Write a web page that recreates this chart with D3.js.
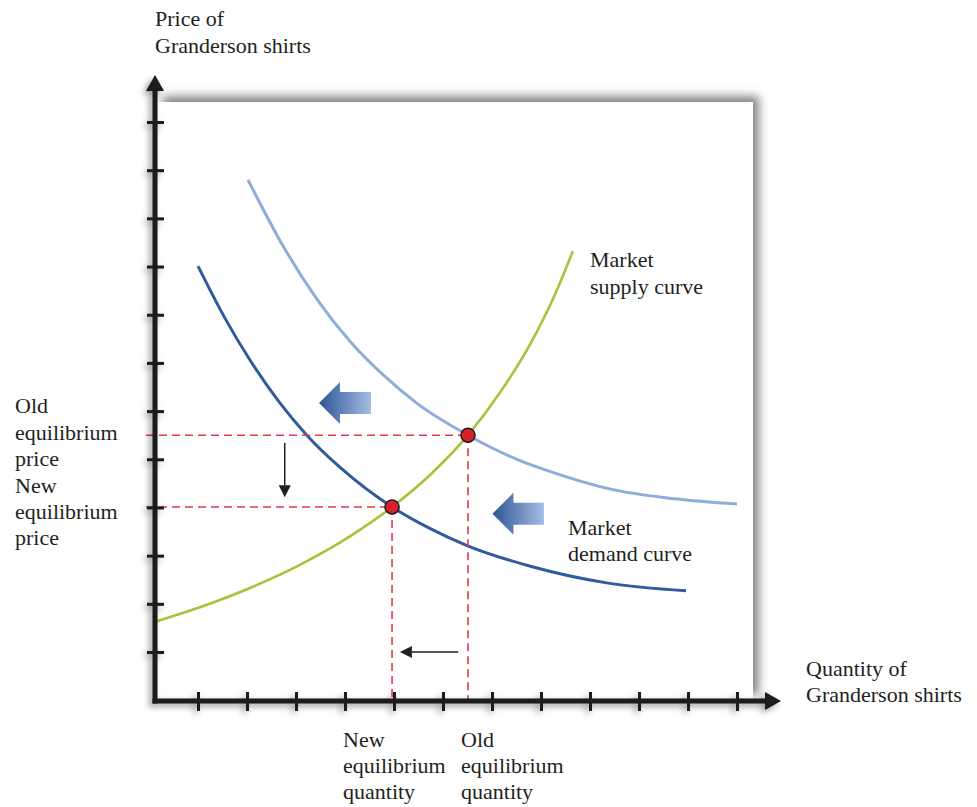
<!DOCTYPE html>
<html>
<head>
<meta charset="utf-8">
<script src="https://cdn.jsdelivr.net/npm/d3@7/dist/d3.min.js"></script>
<style>
  html, body { margin: 0; padding: 0; background: #ffffff; }
  svg { display: block; }
  text { font-family: "Liberation Serif", "Times New Roman", serif; font-size: 22px; fill: #231f20; }
</style>
</head>
<body>
<svg id="chart" width="977" height="807"></svg>
<script>
// ---------- DATA (axis units: quantity ticks 1..12, price ticks 1..12) ----------
const xTickValues = [1,2,3,4,5,6,7,8,9,10,11,12];
const yTickValues = [1,2,3,4,5,6,7,8,9,10,11,12];

const supplyQ = [0.16, 1.04, 2.06, 3.08, 4.10, 4.96, 5.74, 6.51, 7.16, 7.78, 8.29, 8.65];
const supplyP = [1.64, 1.93, 2.33, 2.81, 3.40, 4.01, 4.68, 5.50, 6.38, 7.39, 8.43, 9.32];

const oldDemandQ = [2.02, 2.74, 3.43, 4.10, 4.78, 5.47, 6.51, 7.51, 8.12, 9.47, 10.73, 12.00];
const oldDemandP = [10.80, 9.42, 8.32, 7.45, 6.75, 6.16, 5.50, 5.00, 4.77, 4.37, 4.18, 4.07];

const newDemandQ = [1.00, 1.55, 2.06, 2.67, 3.22, 3.90, 4.96, 5.74, 6.49, 7.82, 9.37, 10.96];
const newDemandP = [9.01, 7.93, 7.06, 6.17, 5.50, 4.83, 4.01, 3.56, 3.21, 2.77, 2.43, 2.27];

const equilibriumNames = ["old", "new"];
const equilibriumQ = [6.51, 4.96];
const equilibriumP = [5.50, 4.01];

// shift arrows (tip position, tail position) in axis units
const shiftArrowTipQ = [3.47, 7.01];
const shiftArrowTailQ = [4.53, 8.06];
const shiftArrowP = [6.17, 3.87];

// small black arrows: price drop and quantity drop
const priceArrowQ = [2.77, 2.77];
const priceArrowP = [5.34, 4.21];
const quantityArrowQ = [6.31, 5.12];
const quantityArrowP = [1.0, 1.0];

const yAxisTitle = ["Price of", "Granderson shirts"];
const xAxisTitle = ["Quantity of", "Granderson shirts"];
const supplyLabel = ["Market", "supply curve"];
const demandLabel = ["Market", "demand curve"];
const oldPriceLabel = ["Old", "equilibrium", "price"];
const newPriceLabel = ["New", "equilibrium", "price"];
const newQtyLabel = ["New", "equilibrium", "quantity"];
const oldQtyLabel = ["Old", "equilibrium", "quantity"];

// ---------- LAYOUT ----------
const svg = d3.select("#chart");
const x = d3.scaleLinear().domain([0, 12]).range([149, 737]);
const y = d3.scaleLinear().domain([0, 12]).range([700.2, 122]);
const axisX0 = 155, axisY0 = 701;
const panel = {left: 157, top: 102, right: 753, bottom: 701};

const defs = svg.append("defs");
const fPanel = defs.append("filter").attr("id", "panelShadow")
  .attr("x", "-10%").attr("y", "-10%").attr("width", "120%").attr("height", "120%");
fPanel.append("feDropShadow").attr("dx", 6).attr("dy", -6).attr("stdDeviation", 5)
  .attr("flood-color", "#555").attr("flood-opacity", 0.7);
const fAxis = defs.append("filter").attr("id", "axisShadow")
  .attr("x", "-20%").attr("y", "-20%").attr("width", "140%").attr("height", "140%");
fAxis.append("feDropShadow").attr("dx", -3).attr("dy", 3).attr("stdDeviation", 3)
  .attr("flood-color", "#000").attr("flood-opacity", 0.4);

const grad = defs.append("linearGradient").attr("id", "arrowGrad")
  .attr("x1", "0%").attr("x2", "100%").attr("y1", "0%").attr("y2", "0%");
grad.append("stop").attr("offset", "0%").attr("stop-color", "#2c5596");
grad.append("stop").attr("offset", "100%").attr("stop-color", "#a6bde3");

// panel
svg.append("rect")
  .attr("x", panel.left).attr("y", panel.top)
  .attr("width", panel.right - panel.left).attr("height", panel.bottom - panel.top)
  .attr("fill", "#ffffff").attr("filter", "url(#panelShadow)");

// curves
const line = d3.line().x(d => x(d[0])).y(d => y(d[1])).curve(d3.curveMonotoneX);
const zip = (a, b) => a.map((v, i) => [v, b[i]]);

svg.append("path").datum(zip(oldDemandQ, oldDemandP)).attr("d", line)
  .attr("fill", "none").attr("stroke", "#8eadda").attr("stroke-width", 3);
svg.append("path").datum(zip(newDemandQ, newDemandP)).attr("d", line)
  .attr("fill", "none").attr("stroke", "#2f5c9e").attr("stroke-width", 3);
svg.append("path").datum(zip(supplyQ, supplyP)).attr("d", line)
  .attr("fill", "none").attr("stroke", "#a9c23c").attr("stroke-width", 2.6);

// dashed guides
const guides = svg.append("g").attr("stroke", "#e23a48").attr("stroke-width", 1.6)
  .attr("stroke-dasharray", "8,5").attr("fill", "none");
equilibriumQ.forEach((q, i) => {
  guides.append("line").attr("x1", axisX0 - 9).attr("x2", x(q))
    .attr("y1", y(equilibriumP[i])).attr("y2", y(equilibriumP[i]));
  guides.append("line").attr("x1", x(q)).attr("x2", x(q))
    .attr("y1", y(equilibriumP[i])).attr("y2", axisY0);
});

// big shift arrows
shiftArrowTipQ.forEach((tq, i) => {
  const tx = x(tq), ex = x(shiftArrowTailQ[i]), cy = y(shiftArrowP[i]);
  const headLen = 21, headH = 21, shaftH = 11;
  const pts = [[tx, cy], [tx + headLen, cy - headH], [tx + headLen, cy - shaftH], [ex, cy - shaftH],
               [ex, cy + shaftH], [tx + headLen, cy + shaftH], [tx + headLen, cy + headH]];
  svg.append("polygon").attr("points", pts.map(p => p.join(",")).join(" "))
    .attr("fill", "url(#arrowGrad)");
});

// small black arrows
function smallArrow(x1, y1, x2, y2) {
  const ang = Math.atan2(y2 - y1, x2 - x1);
  const hl = 12, hw = 6;
  const bx = x2 - hl * Math.cos(ang), by = y2 - hl * Math.sin(ang);
  svg.append("line").attr("x1", x1).attr("y1", y1).attr("x2", bx).attr("y2", by)
    .attr("stroke", "#231f20").attr("stroke-width", 1.5);
  const px = -Math.sin(ang) * hw, py = Math.cos(ang) * hw;
  svg.append("polygon")
    .attr("points", [[x2, y2], [bx + px, by + py], [bx - px, by - py]].map(p => p.join(",")).join(" "))
    .attr("fill", "#231f20");
}
smallArrow(x(priceArrowQ[0]), y(priceArrowP[0]), x(priceArrowQ[1]), y(priceArrowP[1]));
smallArrow(x(quantityArrowQ[0]), y(quantityArrowP[0]), x(quantityArrowQ[1]), y(quantityArrowP[1]));

// axes
const axes = svg.append("g").attr("filter", "url(#axisShadow)");
axes.append("line").attr("x1", axisX0).attr("x2", axisX0).attr("y1", axisY0 + 2.5).attr("y2", 88)
  .attr("stroke", "#1a1a1a").attr("stroke-width", 5);
axes.append("polygon")
  .attr("points", [[axisX0, 75], [axisX0 - 9, 91], [axisX0 + 9, 91]].map(p => p.join(",")).join(" "))
  .attr("fill", "#1a1a1a");
axes.append("line").attr("x1", axisX0 - 2.5).attr("x2", 768).attr("y1", axisY0).attr("y2", axisY0)
  .attr("stroke", "#1a1a1a").attr("stroke-width", 5);
axes.append("polygon")
  .attr("points", [[781, axisY0], [765, axisY0 - 9], [765, axisY0 + 9]].map(p => p.join(",")).join(" "))
  .attr("fill", "#1a1a1a");

const xAxisG = axes.append("g").attr("transform", `translate(0,${axisY0 - 9})`)
  .call(d3.axisBottom(x).tickValues(xTickValues).tickSize(19).tickFormat(""));
const yAxisG = axes.append("g").attr("transform", `translate(${axisX0 - 8},0)`)
  .call(d3.axisRight(y).tickValues(yTickValues).tickSize(17).tickFormat(""));
[xAxisG, yAxisG].forEach(g => {
  g.select(".domain").remove();
  g.selectAll(".tick line").attr("stroke", "#1a1a1a").attr("stroke-width", 3);
});

// equilibrium dots
svg.selectAll("circle.eq").data(equilibriumNames).enter().append("circle")
  .attr("class", "eq")
  .attr("cx", (d, i) => x(equilibriumQ[i])).attr("cy", (d, i) => y(equilibriumP[i]))
  .attr("r", 7).attr("fill", "#d7202a").attr("stroke", "#231f20").attr("stroke-width", 1.6);

// text
function lines(arr, tx, ty, lh) {
  const t = svg.append("text").attr("x", tx).attr("y", ty);
  arr.forEach((s, i) => t.append("tspan").attr("x", tx).attr("y", ty + i * lh).text(s));
}
lines(yAxisTitle, 155, 26, 27);
lines(xAxisTitle, 806, 676, 26);
lines(supplyLabel, 590, 267, 27);
lines(demandLabel, 568, 535, 26);
lines(oldPriceLabel, 15, 413, 26.5);
lines(newPriceLabel, 15, 493, 26);
lines(newQtyLabel, 343, 747, 26);
lines(oldQtyLabel, 461, 747, 26);
</script>
</body>
</html>
